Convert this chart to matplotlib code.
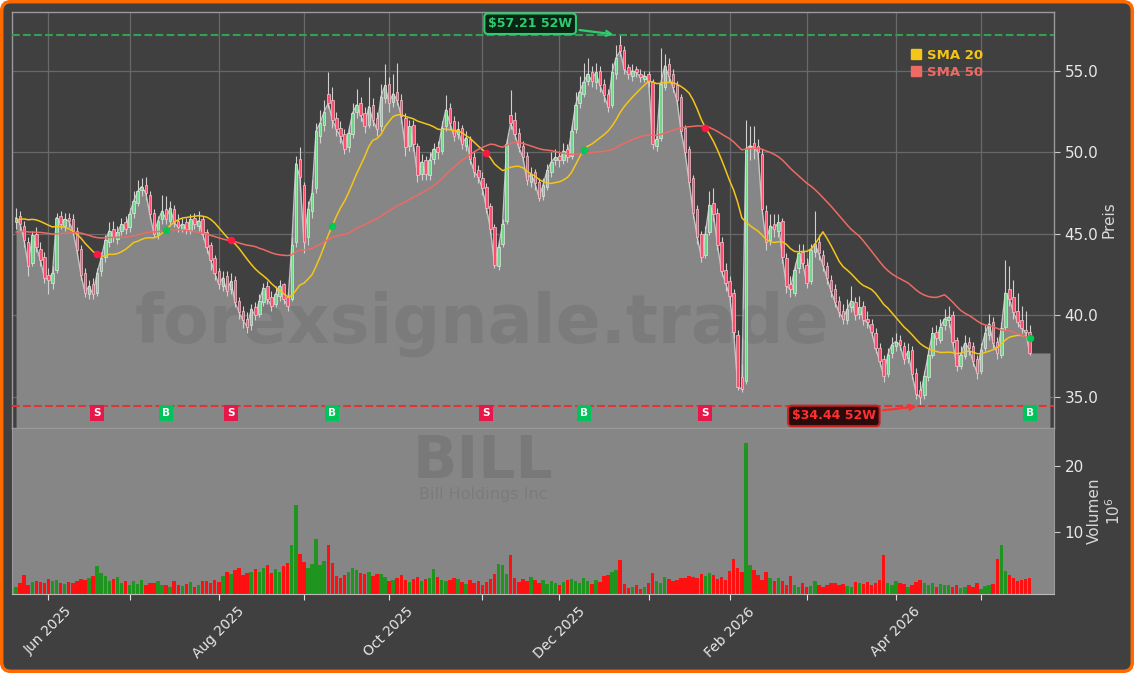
import numpy as np
import pandas as pd
import matplotlib
matplotlib.use("Agg")
import matplotlib.pyplot as plt
from matplotlib.patches import FancyBboxPatch
from matplotlib.lines import Line2D

# ---------------- data ----------------
start_date = "2025-05-20"
holidays = ["2025-05-26", "2025-06-19", "2025-07-04", "2025-09-01", "2025-11-27",
            "2025-12-25", "2026-01-01", "2026-01-19", "2026-02-16", "2026-04-03",
            "2026-05-25"]

# closes before the visible window (only used for the moving averages)
history_close = [43.8, 44.2, 44.9, 45.3, 44.7, 44.1, 43.6, 43.9, 44.5, 45.0,
                 45.4, 45.1, 44.6, 44.0, 43.7, 44.2, 44.8, 45.3, 45.7, 45.2,
                 44.6, 44.3, 44.0, 44.5, 45.0, 45.2, 44.8, 44.4, 44.6, 45.0,
                 44.8, 44.3, 44.0, 44.4, 44.9, 45.2, 44.7, 44.5, 44.8, 45.1,
                 46.0, 46.8, 47.5, 48.1, 47.8, 47.3, 47.6, 47.0, 46.4]

open_ = [45.7, 46.1, 45.5, 44.5, 43.2, 45.0, 44.1, 43.6, 42.5, 42.0,
         42.8, 46.1, 45.5, 46.0, 45.9, 45.2, 44.1, 42.6, 41.3, 41.9,
         41.4, 42.7, 43.6, 44.5, 45.3, 44.7, 45.2, 45.7, 45.4, 46.3,
         46.9, 47.7, 48.0, 47.4, 46.3, 44.9, 45.9, 46.5, 45.8, 46.5,
         45.8, 45.3, 45.7, 45.2, 46.0, 45.5, 45.9, 45.1, 44.3, 43.5,
         42.7, 41.8, 42.4, 41.6, 42.2, 40.9, 40.3, 39.8, 39.4, 40.5,
         40.1, 40.8, 41.8, 41.1, 40.7, 41.2, 41.9, 41.1, 41.0, 44.5,
         49.6, 48.0, 44.8, 46.4, 47.8, 51.0, 51.7, 53.6, 53.2, 52.1,
         51.5, 51.1, 50.3, 51.1, 52.5, 53.0, 52.4, 51.7, 52.9, 52.1,
         51.6, 53.3, 54.2, 53.1, 53.7, 53.2, 52.1, 50.4, 51.7, 50.4,
         48.7, 49.5, 48.6, 49.6, 50.3, 50.1, 51.6, 52.7, 51.9, 51.1,
         51.5, 50.4, 50.8, 49.7, 48.9, 48.4, 47.9, 46.7, 45.4, 43.0,
         44.4, 45.8, 52.3, 52.0, 51.2, 50.4, 49.8, 48.2, 48.8, 48.2,
         47.3, 47.9, 48.8, 49.5, 49.8, 49.5, 50.2, 49.8, 51.4, 53.0,
         53.6, 54.4, 54.9, 54.3, 55.0, 54.2, 53.6, 52.9, 54.8, 56.6,
         56.3, 55.2, 54.7, 55.1, 54.8, 54.5, 54.8, 54.3, 50.4, 50.9,
         54.0, 55.4, 54.8, 54.1, 53.4, 51.5, 50.2, 48.4, 46.5, 45.0,
         43.7, 45.1, 46.9, 46.3, 44.5, 42.8, 42.1, 41.4, 38.8, 36.2,
         36.0, 50.3, 50.6, 50.4, 49.9, 46.4, 44.6, 45.6, 45.2, 45.8,
         43.5, 41.9, 41.4, 42.9, 43.9, 43.1, 42.1, 43.9, 44.5, 43.7,
         43.0, 42.2, 41.6, 40.9, 40.3, 39.7, 40.5, 40.8, 40.1, 40.6,
         39.8, 39.5, 38.9, 38.0, 37.3, 36.4, 37.7, 38.1, 38.5, 38.1,
         37.4, 37.9, 36.5, 35.4, 35.1, 36.2, 37.6, 39.0, 38.5, 39.4,
         39.7, 40.0, 38.5, 36.9, 37.5, 38.4, 38.1, 37.3, 36.6, 38.0,
         38.8, 39.6, 38.4, 37.6, 39.3, 41.6, 41.1, 40.3, 39.7, 39.1,
         39.0]

high = [46.6, 46.4, 45.8, 44.8, 45.2, 45.4, 44.5, 43.9, 42.9, 43.0,
        46.3, 46.4, 46.3, 46.3, 46.2, 45.4, 44.3, 42.9, 42.2, 42.3,
        42.9, 43.9, 44.9, 45.7, 45.8, 45.5, 46.0, 46.1, 46.6, 47.6,
        48.3, 48.4, 48.5, 47.6, 46.5, 46.1, 47.4, 47.3, 47.0, 46.8,
        46.2, 46.0, 46.0, 46.2, 46.3, 46.4, 46.1, 45.3, 44.5, 43.7,
        42.9, 42.7, 42.7, 42.6, 42.4, 41.1, 40.6, 40.2, 40.7, 40.8,
        41.3, 42.0, 42.1, 41.5, 41.8, 42.2, 42.0, 41.4, 44.8, 49.8,
        50.3, 48.2, 47.0, 48.3, 51.8, 52.6, 53.2, 54.9, 54.0, 52.5,
        51.9, 51.4, 51.6, 53.0, 53.9, 53.4, 52.8, 54.6, 53.3, 52.5,
        54.2, 55.4, 54.6, 54.8, 55.5, 53.6, 52.4, 52.0, 52.0, 50.6,
        49.9, 49.8, 50.0, 50.6, 50.7, 51.9, 53.5, 53.0, 52.2, 51.9,
        51.7, 51.3, 51.0, 50.0, 49.2, 48.8, 48.1, 46.9, 45.6, 44.5,
        45.9, 50.8, 53.8, 52.5, 51.5, 50.7, 50.0, 49.1, 49.0, 48.4,
        48.4, 49.3, 50.0, 50.2, 50.1, 50.6, 50.5, 51.7, 53.7, 54.7,
        55.5, 55.8, 55.3, 55.5, 55.3, 54.5, 53.9, 55.5, 56.6, 57.21,
        56.5, 55.4, 55.4, 55.3, 55.1, 55.0, 55.0, 54.5, 51.2, 56.4,
        56.0, 55.8, 55.1, 54.4, 53.6, 51.7, 50.4, 48.6, 46.8, 45.2,
        45.5, 47.6, 47.8, 46.6, 44.8, 43.2, 42.4, 41.6, 39.1, 37.0,
        52.0, 51.6, 51.6, 50.8, 50.2, 46.8, 46.2, 46.2, 46.2, 46.0,
        43.8, 42.4, 43.2, 44.4, 44.4, 43.5, 44.4, 46.4, 44.9, 44.0,
        43.3, 42.5, 41.9, 41.2, 40.7, 41.0, 41.8, 41.1, 41.2, 40.9,
        40.3, 39.8, 39.2, 38.3, 37.6, 38.0, 38.7, 38.9, 38.8, 38.4,
        38.3, 38.1, 36.8, 36.0, 36.6, 37.9, 39.3, 39.4, 39.8, 40.4,
        40.6, 40.3, 38.7, 38.1, 38.8, 38.7, 38.4, 37.6, 38.3, 39.4,
        40.1, 39.9, 38.7, 39.6, 43.4, 43.0, 42.2, 41.4, 40.6, 40.3,
        39.4]

low = [45.3, 45.2, 44.2, 42.4, 43.0, 43.9, 43.0, 42.0, 41.3, 41.6,
       42.6, 45.3, 45.2, 45.4, 44.9, 43.7, 42.2, 41.1, 41.0, 41.0,
       41.2, 42.4, 43.3, 44.2, 44.5, 44.4, 44.9, 45.0, 45.1, 46.0,
       46.7, 47.3, 47.1, 45.9, 44.8, 44.7, 45.6, 45.6, 45.5, 45.4,
       45.1, 45.1, 45.0, 45.0, 45.3, 45.2, 44.7, 43.8, 42.8, 42.2,
       41.6, 41.5, 41.2, 41.3, 40.5, 39.8, 39.2, 38.9, 39.1, 39.7,
       39.9, 40.6, 40.7, 40.3, 40.5, 40.9, 40.7, 40.3, 40.9, 44.2,
       47.6, 43.8, 44.3, 46.0, 47.5, 50.6, 51.3, 52.7, 51.5, 51.0,
       50.6, 49.9, 50.0, 50.9, 52.1, 51.9, 51.2, 51.5, 51.6, 51.0,
       51.3, 53.0, 52.5, 52.8, 52.9, 51.8, 49.8, 50.1, 50.1, 48.2,
       48.3, 48.3, 48.3, 49.3, 49.6, 49.9, 51.3, 51.4, 50.7, 50.8,
       50.2, 50.1, 49.3, 48.5, 48.1, 47.4, 46.3, 45.0, 42.9, 42.8,
       44.2, 45.6, 51.4, 50.8, 50.0, 49.4, 48.0, 47.9, 47.7, 47.0,
       47.1, 47.7, 48.5, 49.2, 49.1, 49.3, 49.4, 49.6, 51.2, 52.7,
       53.4, 54.1, 54.0, 53.9, 53.7, 53.1, 52.5, 52.7, 54.5, 55.9,
       54.8, 54.5, 54.4, 54.6, 54.3, 54.3, 54.0, 50.2, 50.1, 50.7,
       53.8, 54.3, 53.7, 52.9, 51.0, 49.7, 47.9, 46.0, 44.4, 43.3,
       43.5, 44.9, 45.8, 44.0, 42.4, 41.5, 40.6, 38.6, 35.4, 35.3,
       35.8, 49.5, 49.6, 49.5, 46.2, 44.0, 44.3, 44.8, 44.8, 43.2,
       41.4, 41.1, 41.2, 42.6, 42.9, 41.7, 41.9, 43.6, 43.4, 42.7,
       41.9, 41.1, 40.5, 39.9, 39.5, 39.5, 40.2, 39.7, 39.8, 39.4,
       39.2, 38.7, 37.7, 36.9, 35.9, 36.2, 37.4, 37.8, 37.9, 37.0,
       37.1, 36.1, 34.9, 34.44, 34.9, 36.0, 37.4, 38.2, 38.3, 39.1,
       39.3, 38.1, 36.6, 36.7, 37.3, 37.6, 36.9, 36.1, 36.4, 37.8,
       38.5, 38.0, 37.3, 37.4, 39.1, 40.6, 39.8, 39.3, 38.9, 38.6,
       37.6]

close = [46.0, 45.6, 44.6, 43.0, 44.9, 44.2, 43.4, 42.3, 42.2, 42.6,
         46.0, 45.6, 45.9, 45.8, 45.2, 44.0, 42.5, 41.4, 41.8, 41.3,
         42.6, 43.5, 44.6, 45.2, 44.8, 45.1, 45.6, 45.3, 46.2, 47.0,
         47.6, 47.9, 47.5, 46.2, 45.0, 45.8, 46.4, 45.9, 46.6, 45.7,
         45.4, 45.6, 45.3, 45.9, 45.6, 45.8, 45.0, 44.2, 43.4, 42.6,
         41.9, 42.3, 41.5, 42.1, 40.8, 40.2, 39.7, 39.3, 40.4, 40.0,
         40.9, 41.7, 41.0, 40.6, 41.3, 41.8, 41.0, 40.6, 44.3, 49.3,
         48.5, 44.5, 46.5, 47.5, 51.3, 51.8, 52.5, 53.0, 52.0, 51.4,
         51.0, 50.2, 51.2, 52.4, 52.9, 52.3, 51.6, 52.8, 52.0, 51.4,
         53.4, 54.1, 53.0, 53.6, 53.2, 52.2, 50.3, 51.6, 50.5, 48.6,
         49.4, 48.7, 49.5, 50.2, 50.0, 51.5, 52.6, 51.8, 51.0, 51.4,
         50.5, 50.9, 49.6, 48.8, 48.5, 47.8, 46.6, 45.3, 43.1, 44.2,
         45.6, 50.5, 51.8, 51.1, 50.3, 49.7, 48.3, 48.7, 48.1, 47.2,
         48.0, 48.9, 49.4, 49.7, 49.5, 50.1, 49.7, 51.3, 52.9, 53.7,
         54.3, 54.8, 54.4, 54.9, 54.1, 53.5, 52.8, 54.9, 55.8, 56.2,
         55.1, 54.8, 55.0, 54.9, 54.6, 54.7, 54.4, 50.5, 50.8, 54.2,
         55.3, 54.7, 54.0, 53.2, 51.3, 50.0, 48.2, 46.3, 44.8, 43.6,
         45.0, 46.8, 46.2, 44.3, 42.7, 42.0, 41.2, 39.0, 35.6, 35.5,
         50.2, 50.4, 50.3, 50.0, 46.5, 44.5, 45.5, 45.3, 45.7, 43.6,
         41.8, 41.6, 42.8, 43.8, 43.2, 42.0, 44.0, 44.4, 43.8, 43.1,
         42.3, 41.5, 40.8, 40.2, 39.8, 40.4, 40.9, 40.0, 40.5, 39.7,
         39.6, 39.0, 38.0, 37.2, 36.3, 37.6, 38.2, 38.4, 38.2, 37.3,
         37.8, 36.4, 35.2, 35.0, 36.3, 37.6, 38.9, 38.6, 39.3, 39.8,
         39.9, 38.4, 36.9, 37.6, 38.3, 38.0, 37.2, 36.5, 37.9, 38.9,
         39.5, 38.3, 37.7, 39.2, 41.4, 41.0, 40.2, 39.6, 39.2, 39.0,
         37.7]

volume_m = [1.6, 2.2, 3.5, 2.0, 2.4, 2.6, 2.4, 2.2, 2.9, 2.5,
            2.8, 2.3, 2.1, 2.4, 2.2, 2.6, 2.9, 2.8, 3.0, 3.3,
            4.9, 3.8, 3.4, 2.6, 2.9, 3.2, 2.2, 2.6, 2.0, 2.5,
            2.1, 2.7, 1.9, 2.3, 2.2, 2.5, 1.9, 2.0, 1.7, 2.6,
            2.0, 1.8, 2.1, 2.4, 1.6, 2.0, 2.5, 2.6, 2.3, 2.7,
            2.4, 3.3, 3.9, 3.6, 4.2, 4.6, 3.5, 3.8, 4.0, 4.4,
            3.9, 4.5, 5.0, 3.8, 4.4, 4.0, 4.8, 5.3, 8.1, 14.1,
            6.6, 5.5, 4.6, 5.2, 9.0, 5.0, 5.6, 8.1, 5.3, 3.3,
            3.1, 3.5, 3.9, 4.6, 4.2, 3.8, 3.6, 4.0, 3.4, 3.7,
            3.6, 3.2, 2.6, 2.8, 3.1, 3.5, 2.7, 2.4, 2.9, 3.2,
            2.6, 2.9, 3.1, 4.4, 3.2, 2.8, 2.5, 2.7, 3.1, 2.9,
            2.4, 2.1, 2.8, 2.3, 2.6, 2.0, 2.4, 2.9, 3.7, 5.2,
            5.0, 3.6, 6.5, 3.1, 2.4, 2.9, 2.5, 3.2, 2.7, 2.3,
            2.8, 2.1, 2.6, 2.2, 1.9, 2.4, 2.7, 2.9, 2.5, 2.3,
            3.0, 2.6, 2.1, 2.8, 2.4, 3.3, 3.5, 3.9, 4.3, 5.8,
            2.1, 1.5, 1.6, 1.9, 1.4, 1.7, 2.3, 3.8, 2.6, 2.2,
            3.2, 2.9, 2.5, 2.7, 3.1, 3.0, 3.4, 3.2, 3.0, 3.6,
            3.3, 3.8, 3.5, 2.9, 3.2, 2.8, 4.1, 5.9, 4.6, 3.9,
            23.5, 5.0, 4.3, 3.5, 2.8, 3.9, 3.1, 2.5, 3.0, 2.6,
            1.9, 3.4, 2.0, 1.7, 2.2, 1.6, 1.8, 2.5, 2.0, 1.7,
            1.9, 2.2, 2.3, 2.0, 2.1, 1.8, 1.7, 2.4, 2.3, 2.1,
            2.4, 2.0, 2.3, 2.7, 6.5, 2.2, 1.9, 2.6, 2.2, 2.1,
            1.6, 2.0, 2.4, 2.8, 2.2, 1.9, 2.2, 1.7, 2.1, 2.0,
            2.0, 1.6, 1.9, 1.5, 1.7, 2.0, 1.6, 2.2, 1.4, 1.8,
            2.0, 2.1, 5.9, 8.1, 4.1, 3.5, 3.1, 2.6, 2.8, 2.9,
            3.1]

signal_bars = [20, 37, 53, 78, 116, 140, 170, 250]
signal_types = ["S", "B", "S", "B", "S", "B", "S", "B"]

high_52w = 57.21
low_52w = 34.44
high_52w_bar = 149
low_52w_bar = 223

ticker = "BILL"
company = "Bill Holdings Inc"
watermark = "forexsignale.trade"

# ---------------- derived ----------------
n = len(close)
dates = pd.bdate_range(start=start_date, periods=n, freq="C", holidays=holidays)
o = np.array(open_); h = np.array(high); l = np.array(low); c = np.array(close)
v = np.array(volume_m)
x = np.arange(n)
full = pd.Series(history_close + close)
sma20 = full.rolling(20).mean().to_numpy()[len(history_close):]
sma50 = full.rolling(50).mean().to_numpy()[len(history_close):]
up = c >= o

BG = "#404040"
FILL = "#868686"
TXT = "#e8e8e8"

fig = plt.figure(figsize=(11.34, 6.73), dpi=100)
fig.patch.set_facecolor("white")
fig.patches.append(FancyBboxPatch((0.0015, 0.0025), 0.997, 0.995,
                                  boxstyle="round,pad=0,rounding_size=0.008",
                                  mutation_aspect=1134 / 673,
                                  transform=fig.transFigure, facecolor=BG,
                                  edgecolor="#ff6a00", linewidth=2.5, zorder=-10))

ax = fig.add_axes([12 / 1134, 1 - 428 / 673, 1042 / 1134, 416 / 673])
axv = fig.add_axes([12 / 1134, 1 - 594 / 673, 1042 / 1134, 166 / 673], sharex=ax)

# ---- price panel ----
ax.set_facecolor(BG)
ax.set_axisbelow(True)
ax.grid(True, color="#686868", linewidth=0.9)
xf = np.append(x, np.arange(n, n + 5))
cf = np.append(c, [c[-1]] * 5)
ax.fill_between(xf, cf, 33.1, color=FILL, zorder=1, linewidth=0)
ax.plot(x, c, color="#c4c4c4", linewidth=1.0, zorder=2)

ax.text(0.451, 0.25, watermark, transform=ax.transAxes, ha="center", va="center",
        fontsize=48, fontweight="bold", color="black", alpha=0.08, zorder=2.5)

ax.vlines(x, l, h, color="#d0d0d0", linewidth=0.8, zorder=3)
body_b = np.minimum(o, c)
body_h = np.maximum(np.abs(c - o), 0.05)
ax.bar(x[up], body_h[up], bottom=body_b[up], width=0.62, color="#6fd98a",
       edgecolor="#e4e4e4", linewidth=0.5, zorder=4)
ax.bar(x[~up], body_h[~up], bottom=body_b[~up], width=0.62, color="#ff4d6d",
       edgecolor="#f0c8d0", linewidth=0.5, zorder=4)

ax.plot(x, sma20, color="#f5c518", linewidth=1.1, zorder=5)
ax.plot(x, sma50, color="#ee6a64", linewidth=1.1, zorder=5)

ax.axhline(high_52w, color="#2fa352", linestyle="--", linewidth=1.5, zorder=5)
ax.axhline(low_52w, color="#e03535", linestyle="--", linewidth=1.5, zorder=5)

for b, t in zip(signal_bars, signal_types):
    col = "#00c853" if t == "B" else "#ff1744"
    ax.scatter([b], [sma20[b]], s=30, color=col, zorder=6, linewidths=0)
    ax.text(b, 34.02, t, ha="center", va="center", fontsize=7.5, fontweight="bold",
            color="white", zorder=7,
            bbox=dict(boxstyle="square,pad=0.3",
                      fc="#00c45a" if t == "B" else "#e8174a", ec="none"))

ax.annotate(f"${high_52w:.2f} 52W", xy=(high_52w_bar - 1, high_52w),
            xytext=(126.8, 57.88), ha="center", va="center", fontsize=9,
            fontweight="bold", color="#2ecc71", zorder=8,
            bbox=dict(boxstyle="round,pad=0.3", fc="#0b2413", ec="#2ecc71", lw=1.5),
            arrowprops=dict(arrowstyle="->", color="#2ecc71", lw=1.6))
ax.annotate(f"${low_52w:.2f} 52W", xy=(low_52w_bar - 0.2, low_52w),
            xytext=(201.7, 33.84), ha="center", va="center", fontsize=9,
            fontweight="bold", color="#ff3030", zorder=8,
            bbox=dict(boxstyle="round,pad=0.3", fc="#2a0b0b", ec="#cc2020", lw=1.5),
            arrowprops=dict(arrowstyle="->", color="#ff3030", lw=1.6))

handles = [Line2D([], [], marker="s", linestyle="None", color="#f5c518", markersize=7.5),
           Line2D([], [], marker="s", linestyle="None", color="#ee6a64", markersize=7.5)]
leg = ax.legend(handles, ["SMA 20", "SMA 50"], loc="upper right",
                bbox_to_anchor=(0.943, 0.94), frameon=False, handlelength=0.8,
                handletextpad=0.4, labelspacing=0.32,
                prop=dict(weight="bold", size=9.5))
for txt, col in zip(leg.get_texts(), ["#f5c518", "#ee6a64"]):
    txt.set_color(col)

ax.set_xlim(-1, n + 5)
ax.set_ylim(33.1, 58.6)
ax.yaxis.tick_right()
ax.yaxis.set_label_position("right")
ax.set_yticks([35, 40, 45, 50, 55])
ax.set_yticklabels([f"{t:.1f}" for t in [35, 40, 45, 50, 55]])
ax.tick_params(axis="y", colors=TXT, labelsize=11, length=4, color="#cccccc")
ax.tick_params(axis="x", labelbottom=False, length=0)
ax.set_ylabel("Preis", color="#d8d8d8", fontsize=11, labelpad=2)
for sp in ax.spines.values():
    sp.set_color("#9a9a9a")
    sp.set_linewidth(1.0)

# ---- volume panel ----
axv.set_facecolor(FILL)
axv.bar(x, v, width=0.85, color=np.where(up, "#1f951f", "#ff1010"), linewidth=0)
axv.text(0.452, 0.70, ticker, transform=axv.transAxes, ha="center", va="baseline",
         fontsize=42, fontweight="bold", color="black", alpha=0.09)
axv.text(0.452, 0.645, company, transform=axv.transAxes, ha="center", va="top",
         fontsize=11.5, color="black", alpha=0.08)
axv.set_ylim(0.6, 25.8)
axv.yaxis.tick_right()
axv.yaxis.set_label_position("right")
axv.set_yticks([10, 20])
axv.set_yticklabels(["10", "20"])
axv.tick_params(axis="y", colors=TXT, labelsize=11, length=4, color="#cccccc")
axv.set_ylabel("Volumen\n$10^{6}$", color="#d8d8d8", fontsize=11, labelpad=2)

month_pos, month_lab = [], []
prev = None
for i, d in enumerate(dates):
    if prev is not None and d.month != prev:
        month_pos.append(i)
        month_lab.append(d.strftime("%b %Y") if d.month % 2 == 0 else "")
    prev = d.month
axv.set_xticks(month_pos)
axv.set_xticklabels(month_lab, rotation=45, ha="center")
axv.tick_params(axis="x", colors=TXT, labelsize=10, length=4, color="#e0e0e0")
for sp in axv.spines.values():
    sp.set_color("#9a9a9a")
axv.spines["bottom"].set_color("#bbbbbb")
axv.grid(False)

fig.savefig("out.png", dpi=100, facecolor=fig.get_facecolor())
